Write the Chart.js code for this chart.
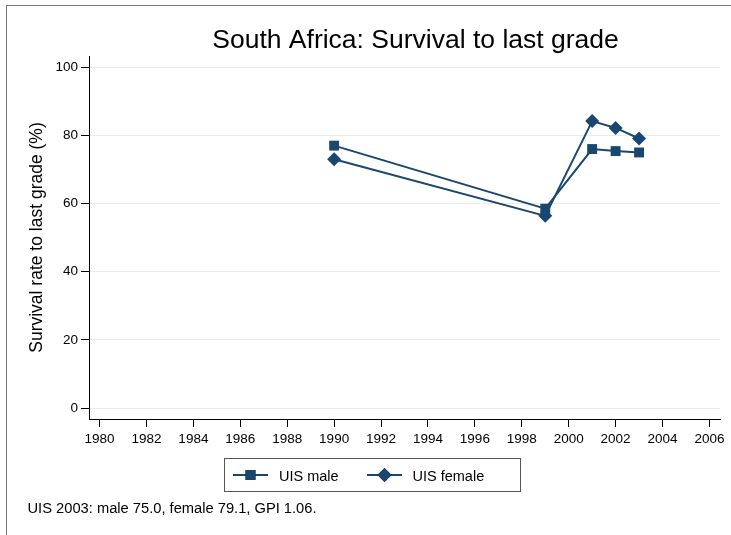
<!DOCTYPE html>
<html><head><meta charset="utf-8">
<script src="https://cdn.jsdelivr.net/npm/chart.js@4/dist/chart.umd.min.js"></script>
<style>
html,body{margin:0;padding:0;background:#fff;}
#wrap{position:relative;width:731px;height:535px;}
#frame{position:absolute;left:6px;top:5px;width:740px;height:560px;border-left:1px solid #777;border-top:1px solid #777;pointer-events:none;}
canvas{position:absolute;left:0;top:0;}
</style></head>
<body><div id="wrap"><canvas id="c" width="731" height="535"></canvas><div id="frame"></div></div>
<script>
const years = [1990, 1999, 2001, 2002, 2003];
const maleValues = [77.0, 58.5, 76.0, 75.4, 75.0];
const femaleValues = [73.0, 56.4, 84.2, 82.2, 79.1];
const xTickLabels = [1980,1982,1984,1986,1988,1990,1992,1994,1996,1998,2000,2002,2004,2006];
const yTickLabels = [0,20,40,60,80,100];
const seriesNames = ['UIS male','UIS female'];
const titleText = 'South Africa: Survival to last grade';
const yTitle = 'Survival rate to last grade (%)';
const noteText = 'UIS 2003: male 75.0, female 79.1, GPI 1.06.';

const navy = '#1a476f';
const FONT = '"Liberation Sans", Arial, sans-serif';

const extras = {
  id: 'extras',
  afterDraw(chart) {
    const ctx = chart.ctx;
    ctx.save();
    ctx.fillStyle = '#000';
    ctx.font = '26.5px ' + FONT;
    ctx.textAlign = 'center';
    ctx.textBaseline = 'alphabetic';
    ctx.fillText(titleText, 415.5, 48);
    // legend
    ctx.strokeStyle = '#555';
    ctx.lineWidth = 1;
    ctx.strokeRect(224.5, 458.5, 296, 33);
    const items = [
      {x0: 233, tx: 279},
      {x0: 367, tx: 412.5}
    ];
    items.forEach((it, i) => {
      const ds = chart.data.datasets[i];
      const y = 475;
      ctx.strokeStyle = ds.borderColor;
      ctx.lineWidth = 2;
      ctx.beginPath(); ctx.moveTo(it.x0, y); ctx.lineTo(it.x0 + 35, y); ctx.stroke();
      Chart.helpers.drawPoint(ctx, {pointStyle: ds.pointStyle, radius: ds.pointRadius, borderWidth: 0}, it.x0 + 17.5, y);
      ctx.fillStyle = ds.pointBackgroundColor;
      ctx.fill();
      ctx.fillStyle = '#000';
      ctx.font = '14.5px ' + FONT;
      ctx.textAlign = 'left';
      ctx.textBaseline = 'alphabetic';
      ctx.fillText(ds.label, it.tx, 480.5);
    });
    ctx.font = '14.7px ' + FONT;
    ctx.textAlign = 'left';
    ctx.textBaseline = 'alphabetic';
    ctx.fillText(noteText, 27.5, 513);
    ctx.restore();
  }
};

new Chart(document.getElementById('c'), {
  type: 'line',
  data: {
    datasets: [
      {label: seriesNames[0], data: years.map((y,i)=>({x:y, y:maleValues[i]})),
       borderColor: navy, backgroundColor: navy, pointBackgroundColor: navy, pointBorderColor: navy,
       pointStyle: 'rect', pointRadius: 7, pointBorderWidth: 0, borderWidth: 2, tension: 0},
      {label: seriesNames[1], data: years.map((y,i)=>({x:y, y:femaleValues[i]})),
       borderColor: navy, backgroundColor: navy, pointBackgroundColor: navy, pointBorderColor: navy,
       pointStyle: 'rectRot', pointRadius: 7, pointBorderWidth: 0, borderWidth: 2, tension: 0}
    ]
  },
  options: {
    responsive: false,
    animation: false,
    layout: {padding: {top: 56, bottom: 86, left: 0, right: 11}},
    plugins: {legend: {display: false}, title: {display: false}, tooltip: {enabled: false}},
    scales: {
      x: {
        type: 'linear', min: 1979.55, max: 2006.45,
        afterBuildTicks: s => { s.ticks = xTickLabels.map(v => ({value: v})); },
        afterFit: s => { s.height = 30; },
        grid: {drawOnChartArea: false, drawTicks: true, tickLength: 8, tickColor: '#000', lineWidth: 1},
        border: {color: '#000', width: 1},
        ticks: {color: '#000', font: {family: FONT, size: 13.5}, padding: 4, maxRotation: 0, autoSkip: false,
                callback: v => String(v)}
      },
      y: {
        min: -3.2, max: 103.3,
        afterBuildTicks: s => { s.ticks = yTickLabels.map(v => ({value: v})); },
        afterFit: s => { s.width = 89; },
        grid: {color: '#e6edf0', lineWidth: 1, drawTicks: true, tickLength: 8, tickColor: '#000'},
        border: {color: '#000', width: 1},
        ticks: {color: '#000', font: {family: FONT, size: 13.5}, padding: 3},
        title: {display: true, text: yTitle, color: '#000', font: {family: FONT, size: 17.5}, padding: {top: 27, bottom: 0}}
      }
    }
  },
  plugins: [extras]
});
</script>
</body></html>
